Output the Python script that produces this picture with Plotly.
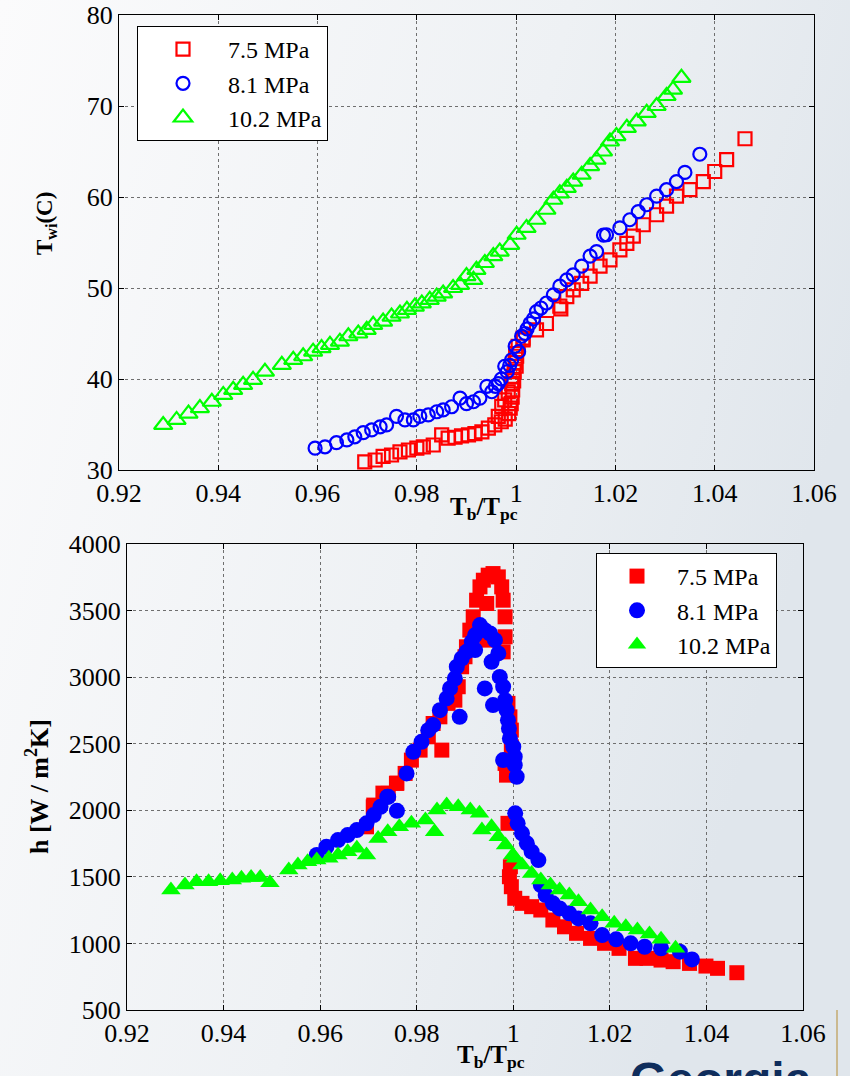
import base64
import plotly.graph_objects as go

# ---------------- data: top panel (wall temperature) ----------------
top_x_75 = [0.9695, 0.9716, 0.9732, 0.9749, 0.9766, 0.9783, 0.9800, 0.9813, 0.9833, 0.9850,
            0.9863, 0.9877, 0.9890, 0.9904, 0.9917, 0.9931, 0.9944, 0.9957, 0.9964, 0.9970,
            0.9971, 0.9977, 0.9978, 0.9984, 0.9985, 0.9988, 0.9990, 0.9991, 0.9992, 0.9993,
            0.9994, 0.9995, 0.9996, 0.9998, 0.9999, 1.0000, 1.0001, 1.0004, 1.0014, 1.0014,
            1.0041, 1.0061, 1.0088, 1.0090, 1.0102, 1.0115, 1.0132, 1.0149, 1.0169, 1.0189,
            1.0209, 1.0223, 1.0236, 1.0256, 1.0283, 1.0303, 1.0323, 1.0350, 1.0377, 1.0400,
            1.0424, 1.0461]
top_y_75 = [30.9, 31.1, 31.5, 31.65, 32.0, 32.2, 32.4, 32.55, 32.75, 33.85,
            33.5, 33.6, 33.75, 33.85, 34.0, 34.2, 34.6, 34.95, 35.9, 35.3,
            37.0, 37.7, 35.6, 38.6, 36.2, 36.8, 37.3, 39.5, 38.0, 38.8,
            40.3, 39.8, 40.8, 41.8, 42.8, 41.4, 42.5, 43.6, 44.5, 44.3,
            45.4, 46.1, 48.0, 47.7, 49.05, 49.8, 50.5, 51.3, 52.4, 53.1,
            54.2, 54.9, 55.7, 56.95, 58.05, 59.0, 60.1, 60.8, 61.7, 62.8,
            64.1, 66.4]

top_x_81 = [0.9595, 0.9615, 0.9638, 0.9659, 0.9675, 0.9692, 0.9709, 0.9726, 0.9739, 0.9759,
            0.9776, 0.9793, 0.9806, 0.9823, 0.9840, 0.9853, 0.9870, 0.9887, 0.9900, 0.9914,
            0.9927, 0.9941, 0.9951, 0.9958, 0.9964, 0.9970, 0.9977, 0.9982, 0.9987, 0.9991,
            0.9998, 1.0005, 1.0011, 1.0018, 1.0022, 1.0028, 1.0035, 1.0041, 1.0050, 1.0061,
            1.0075, 1.0088, 1.0102, 1.0115, 1.0132, 1.0149, 1.0162, 1.0176, 1.0182, 1.0209,
            1.0229, 1.0246, 1.0263, 1.0283, 1.0303, 1.0323, 1.0340, 1.0370]
top_y_81 = [32.4, 32.55, 33.0, 33.3, 33.65, 34.1, 34.4, 34.75, 34.95, 35.9,
            35.5, 35.5, 35.9, 36.05, 36.4, 36.6, 36.95, 37.9, 37.3, 37.5,
            37.9, 39.2, 38.6, 39.2, 39.5, 40.0, 41.4, 40.8, 41.5, 42.1,
            43.6, 43.0, 44.7, 45.0, 45.5, 46.1, 46.6, 47.4, 47.8, 48.35,
            49.25, 50.2, 50.9, 51.45, 52.4, 53.5, 54.0, 55.8, 55.85, 56.6,
            57.5, 58.4, 59.15, 60.1, 60.8, 61.7, 62.7, 64.7]

top_x_102 = [0.9289, 0.9316, 0.9340, 0.9363, 0.9387, 0.9410, 0.9430, 0.9450, 0.9470, 0.9494,
             0.9528, 0.9551, 0.9571, 0.9591, 0.9608, 0.9625, 0.9645, 0.9662, 0.9682, 0.9699,
             0.9712, 0.9732, 0.9749, 0.9766, 0.9780, 0.9796, 0.9810, 0.9826, 0.9840, 0.9853,
             0.9873, 0.9887, 0.9900, 0.9914, 0.9920, 0.9937, 0.9954, 0.9967, 0.9988, 1.0001,
             1.0021, 1.0041, 1.0061, 1.0075, 1.0088, 1.0102, 1.0115, 1.0132, 1.0149, 1.0162,
             1.0175, 1.0189, 1.0202, 1.0223, 1.0243, 1.0263, 1.0283, 1.0303, 1.0316, 1.0333]
top_y_102 = [34.95, 35.5, 36.2, 36.8, 37.5, 38.25, 38.8, 39.35, 39.9, 40.8,
             41.55, 42.1, 42.5, 43.0, 43.4, 43.75, 44.1, 44.7, 45.0, 45.4,
             45.95, 46.3, 46.85, 47.2, 47.6, 47.95, 48.3, 48.7, 49.05, 49.4,
             50.0, 50.35, 51.3, 50.9, 52.0, 52.75, 53.5, 54.0, 54.75, 55.85,
             56.6, 57.5, 58.6, 59.7, 60.4, 61.0, 61.7, 62.45, 63.4, 64.1,
             65.0, 66.1, 66.7, 67.6, 68.3, 69.25, 70.0, 71.1, 71.8, 73.1]

# ---------------- data: bottom panel (heat transfer coefficient) ----------------
bot_x_75 = [0.9696, 0.9710, 0.9711, 0.9730, 0.9741, 0.9758, 0.9759, 0.9776, 0.9789, 0.9807,
            0.9824, 0.9834, 0.9848, 0.9852, 0.9865, 0.9876, 0.9879, 0.9886, 0.9893, 0.9900,
            0.9903, 0.9910, 0.9917, 0.9924, 0.9931, 0.9938, 0.9945, 0.9945, 0.9948, 0.9958,
            0.9969, 0.9976, 0.9979, 0.9983, 0.9983, 0.9979, 0.9989, 0.9993, 0.9996, 0.9996,
            0.9983, 0.9986, 0.9989, 0.9994, 0.9992, 0.9996, 1.0003, 1.0018, 1.0038, 1.0057,
            1.0082, 1.0106, 1.0131, 1.0160, 1.0189, 1.0219, 1.0253, 1.0277, 1.0306, 1.0331,
            1.0365, 1.0399, 1.0423, 1.0463]
bot_y_75 = [1876, 2026, 2039, 2129, 2127, 2202, 2204, 2277, 2377, 2452,
            2552, 2652, 2702, 2452, 2803, 2878, 2827, 2928, 3078, 3153,
            3228, 3353, 3453, 3578, 3678, 3728, 3553, 3278, 3766, 3778,
            3753, 3678, 3578, 3453, 3303, 3190, 2803, 2702, 2602, 2477,
            2352, 2264, 1902, 1576, 1501, 1426, 1339, 1301, 1276, 1251,
            1176, 1125, 1076, 1038, 1001, 963, 888, 888, 875, 863,
            850, 830, 813, 780]

bot_x_81 = [0.9593, 0.9613, 0.9637, 0.9657, 0.9676, 0.9696, 0.9711, 0.9725, 0.9739, 0.9759,
            0.9741, 0.9779, 0.9793, 0.9810, 0.9824, 0.9834, 0.9848, 0.9862, 0.9869, 0.9879,
            0.9883, 0.9893, 0.9903, 0.9914, 0.9921, 0.9931, 0.9941, 0.9952, 0.9962, 0.9969,
            0.9955, 0.9972, 0.9979, 0.9983, 0.9958, 0.9986, 0.9989, 0.9991, 0.9993, 1.0000,
            1.0003, 1.0003, 0.9979, 1.0007, 0.9889, 0.9941, 0.9921, 1.0004, 1.0009, 1.0018,
            1.0028, 1.0038, 1.0052, 1.0057, 1.0067, 1.0082, 1.0096, 1.0116, 1.0135, 1.0160,
            1.0184, 1.0213, 1.0243, 1.0272, 1.0306, 1.0345, 1.0370]
bot_y_81 = [1664, 1726, 1776, 1814, 1851, 1902, 1964, 2026, 2101, 1996,
            2101, 2277, 2439, 2514, 2602, 2640, 2752, 2840, 2915, 2990,
            3078, 3140, 3190, 3265, 3316, 3391, 3353, 3328, 3278, 3178,
            3115, 3002, 2928, 2827, 2790, 2752, 2677, 2615, 2540, 2477,
            2402, 2339, 2377, 2252, 2702, 2915, 3203, 1977, 1902, 1827,
            1752, 1689, 1626, 1439, 1363, 1301, 1263, 1226, 1188, 1151,
            1063, 1031, 1001, 975, 963, 938, 880]

bot_x_102 = [0.9291, 0.9320, 0.9344, 0.9369, 0.9393, 0.9418, 0.9437, 0.9457, 0.9476, 0.9496,
             0.9535, 0.9554, 0.9574, 0.9593, 0.9618, 0.9637, 0.9657, 0.9676, 0.9696, 0.9720,
             0.9740, 0.9764, 0.9789, 0.9818, 0.9837, 0.9842, 0.9862, 0.9886, 0.9911, 0.9930,
             0.9935, 0.9955, 0.9969, 0.9984, 0.9999, 1.0004, 1.0018, 1.0038, 1.0057, 1.0077,
             1.0096, 1.0116, 1.0135, 1.0160, 1.0184, 1.0209, 1.0233, 1.0257, 1.0282, 1.0306,
             1.0336]
bot_y_102 = [1401, 1439, 1463, 1463, 1471, 1476, 1489, 1496, 1496, 1456,
             1551, 1589, 1614, 1626, 1639, 1664, 1689, 1714, 1664, 1789,
             1839, 1876, 1902, 1927, 1839, 2002, 2039, 2026, 2002, 1977,
             1851, 1876, 1801, 1739, 1664, 1639, 1589, 1526, 1476, 1439,
             1401, 1363, 1313, 1251, 1201, 1151, 1126, 1101, 1071, 1031,
             963]

series_names = ["7.5 MPa", "8.1 MPa", "10.2 MPa"]
x_tickvals = [0.92, 0.94, 0.96, 0.98, 1.00, 1.02, 1.04, 1.06]
x_ticktext = ["0.92", "0.94", "0.96", "0.98", "1", "1.02", "1.04", "1.06"]
top_y_tickvals = [30, 40, 50, 60, 70, 80]
bot_y_tickvals = [500, 1000, 1500, 2000, 2500, 3000, 3500, 4000]

RED, BLUE, GREEN = "#ff0000", "#0000ff", "#00ff00"
SERIF = "Liberation Serif"

fig = go.Figure()

# top panel: open markers
fig.add_trace(go.Scatter(x=top_x_75, y=top_y_75, mode="markers", name=series_names[0],
                         xaxis="x", yaxis="y", legend="legend",
                         marker=dict(symbol="square-open", size=13, color=RED, line=dict(width=2.2, color=RED))))
fig.add_trace(go.Scatter(x=top_x_81, y=top_y_81, mode="markers", name=series_names[1],
                         xaxis="x", yaxis="y", legend="legend",
                         marker=dict(symbol="circle-open", size=13, color=BLUE, line=dict(width=2.2, color=BLUE))))
fig.add_trace(go.Scatter(x=top_x_102, y=top_y_102, mode="markers", name=series_names[2],
                         xaxis="x", yaxis="y", legend="legend",
                         marker=dict(symbol="triangle-up-open", size=16, color=GREEN, line=dict(width=2.2, color=GREEN))))

# bottom panel: filled markers
fig.add_trace(go.Scatter(x=bot_x_75, y=bot_y_75, mode="markers", name=series_names[0],
                         xaxis="x2", yaxis="y2", legend="legend2",
                         marker=dict(symbol="square", size=15, color=RED, line=dict(width=0))))
fig.add_trace(go.Scatter(x=bot_x_81, y=bot_y_81, mode="markers", name=series_names[1],
                         xaxis="x2", yaxis="y2", legend="legend2",
                         marker=dict(symbol="circle", size=16, color=BLUE, line=dict(width=0))))
fig.add_trace(go.Scatter(x=bot_x_102, y=bot_y_102, mode="markers", name=series_names[2],
                         xaxis="x2", yaxis="y2", legend="legend2",
                         marker=dict(symbol="triangle-up", size=17, color=GREEN, line=dict(width=0))))

W, H = 850, 1076

def px_x(p):
    return p / W

def px_y(p):
    return 1 - p / H

axis_common = dict(showline=True, linecolor="black", linewidth=1, mirror="ticks",
                   ticks="inside", ticklen=5, tickcolor="black", automargin=False,
                   showgrid=True, gridcolor="#6f6f6f", griddash="dot", gridwidth=1,
                   zeroline=False, tickfont=dict(family=SERIF, size=26, color="black"))

# soft slide-style background gradient
svg_bg = ("<svg xmlns='http://www.w3.org/2000/svg' width='850' height='1076'>"
          "<defs><linearGradient id='g' x1='0' y1='0' x2='1' y2='0.35'>"
          "<stop offset='0' stop-color='#fbfbfc'/>"
          "<stop offset='0.6' stop-color='#eef1f4'/>"
          "<stop offset='1' stop-color='#e0e6ec'/>"
          "</linearGradient></defs>"
          "<rect width='850' height='1076' fill='url(#g)'/></svg>")
bg_src = "data:image/svg+xml;base64," + base64.b64encode(svg_bg.encode()).decode()

fig.update_layout(
    width=W, height=H,
    margin=dict(l=0, r=0, t=0, b=0, pad=0, autoexpand=False),
    paper_bgcolor="#eef1f4",
    plot_bgcolor="white",
    images=[dict(source=bg_src, xref="paper", yref="paper", x=0, y=1, sizex=1, sizey=1,
                 xanchor="left", yanchor="top", sizing="stretch", layer="below")],
    xaxis=dict(domain=[px_x(119), px_x(814)], range=[0.92, 1.06], anchor="y",
               tickvals=x_tickvals, ticktext=x_ticktext, **axis_common),
    yaxis=dict(domain=[px_y(470), px_y(15)], range=[30, 80], anchor="x",
               tickvals=top_y_tickvals, **axis_common),
    xaxis2=dict(domain=[px_x(127), px_x(803)], range=[0.92, 1.06], anchor="y2",
                tickvals=x_tickvals, ticktext=x_ticktext, **axis_common),
    yaxis2=dict(domain=[px_y(1010), px_y(544)], range=[500, 4000], anchor="x2",
                tickvals=bot_y_tickvals, **axis_common),
    legend=dict(x=px_x(137), y=px_y(26), xanchor="left", yanchor="top",
                bgcolor="white", bordercolor="black", borderwidth=1,
                font=dict(family=SERIF, size=24, color="black"), itemwidth=80),
    legend2=dict(x=px_x(596), y=px_y(553), xanchor="left", yanchor="top",
                 bgcolor="white", bordercolor="black", borderwidth=1,
                 font=dict(family=SERIF, size=24, color="black"), itemwidth=70),
    showlegend=True,
)

fig.add_annotation(text="<b>T<sub>wi</sub>(C)</b>", x=px_x(46), y=px_y(224), xref="paper", yref="paper",
                   xanchor="center", yanchor="middle",
                   textangle=-90, showarrow=False, font=dict(family=SERIF, size=23, color="black"))
fig.add_annotation(text="<b>T<sub>b</sub>/T<sub>pc</sub></b>", x=px_x(484), y=px_y(491), xref="paper", yref="paper",
                   xanchor="center", yanchor="top",
                   showarrow=False, font=dict(family=SERIF, size=25, color="black"))
fig.add_annotation(text="<b>h [W / m<sup>2</sup>K]</b>", x=px_x(37), y=px_y(787), xref="paper", yref="paper",
                   xanchor="center", yanchor="middle",
                   textangle=-90, showarrow=False, font=dict(family=SERIF, size=26, color="black"))
fig.add_annotation(text="<b>T<sub>b</sub>/T<sub>pc</sub></b>", x=px_x(491), y=px_y(1039), xref="paper", yref="paper",
                   xanchor="center", yanchor="top",
                   showarrow=False, font=dict(family=SERIF, size=25, color="black"))

# partially visible logo text at bottom right of the slide
fig.add_annotation(text="<b>Georgia</b>", x=px_x(628), y=px_y(1051), xref="paper", yref="paper",
                   xanchor="left", yanchor="top", showarrow=False,
                   font=dict(family="Liberation Sans", size=48, color="#0f2d5c"))
fig.add_shape(type="line", xref="paper", yref="paper", x0=px_x(837), x1=px_x(837),
              y0=px_y(1076), y1=px_y(1010), line=dict(color="#cbb98f", width=2))

fig.write_html("out.html")
